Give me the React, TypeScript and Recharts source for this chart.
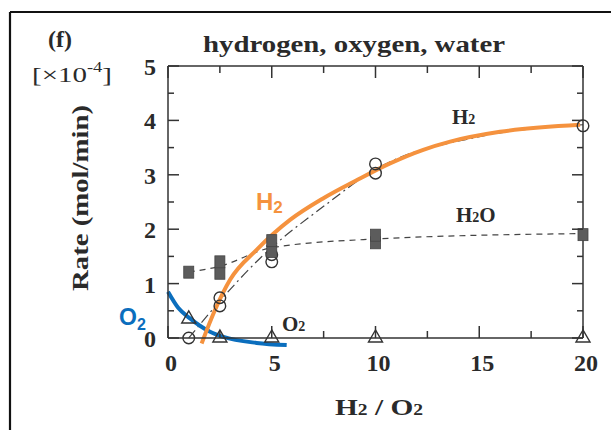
import React from 'react';
import { ComposedChart, XAxis, YAxis, Line, Scatter } from 'recharts';

// ---- axis ticks ----
const xTicks = [0, 2.5, 5, 7.5, 10, 12.5, 15, 17.5, 20];
const xTickLabels = [0, 5, 10, 15, 20];
const yTicks = [0, 0.5, 1, 1.5, 2, 2.5, 3, 3.5, 4, 4.5, 5];
const yTickLabels = [0, 1, 2, 3, 4, 5];

// ---- measured points (rate x1e-4 mol/min vs H2/O2) ----
const h2Points = [
  { x: 1, y: 0 },
  { x: 2.5, y: 0.59 },
  { x: 2.5, y: 0.74 },
  { x: 5, y: 1.4 },
  { x: 5, y: 1.53 },
  { x: 10, y: 3.03 },
  { x: 10, y: 3.2 },
  { x: 20, y: 3.9 },
];
const h2oPoints = [
  { x: 1, y: 1.21 },
  { x: 2.5, y: 1.19 },
  { x: 2.5, y: 1.4 },
  { x: 5, y: 1.59 },
  { x: 5, y: 1.79 },
  { x: 10, y: 1.75 },
  { x: 10, y: 1.89 },
  { x: 20, y: 1.9 },
];
const o2Points = [
  { x: 1, y: 0.35 },
  { x: 2.5, y: 0 },
  { x: 5, y: 0 },
  { x: 10, y: 0 },
  { x: 20, y: 0 },
];

// ---- drawn curves ----
const h2FitCurve = [
  { x: 1.62, y: -0.1 },
  { x: 2.27, y: 0.52 },
  { x: 2.99, y: 1.07 },
  { x: 4.27, y: 1.62 },
  { x: 5.88, y: 2.17 },
  { x: 7.49, y: 2.57 },
  { x: 9.09, y: 2.9 },
  { x: 10.7, y: 3.21 },
  { x: 12.3, y: 3.46 },
  { x: 13.6, y: 3.61 },
  { x: 16, y: 3.79 },
  { x: 19.86, y: 3.92 },
];
const o2FitCurve = [
  { x: 0, y: 0.85 },
  { x: 0.5, y: 0.55 },
  { x: 1.06, y: 0.36 },
  { x: 2, y: 0.12 },
  { x: 2.67, y: 0.02 },
  { x: 4.27, y: -0.09 },
  { x: 5.72, y: -0.13 },
];
const h2TrendLine = [
  { x: 1, y: 0 },
  { x: 2.5, y: 0.68 },
  { x: 4.5, y: 1.49 },
  { x: 7.5, y: 2.42 },
  { x: 10, y: 3.1 },
  { x: 15, y: 3.7 },
  { x: 20, y: 3.92 },
];
const h2oTrendLine = [
  { x: 1, y: 1.21 },
  { x: 2.5, y: 1.32 },
  { x: 5, y: 1.66 },
  { x: 10, y: 1.82 },
  { x: 20, y: 1.92 },
];

const AXIS = '#333';
const TEXT = '#2a2a2a';
const SERIF = '"Liberation Serif", "Times New Roman", serif';
const SANS = '"Liberation Sans", Arial, sans-serif';
const ORANGE = '#F5923E';
const BLUE = '#0B6EBD';

const BottomTick = (props: any) => {
  const { x, y, payload } = props;
  const v = Number(payload.value);
  const major = v % 5 === 0;
  return (
    <g>
      <path d={`M${x},${y}V${y - (major ? 12 : 7)}`} stroke={AXIS} strokeWidth={1.5} fill="none" />
      {xTickLabels.includes(v) && (
        <text x={x + 3} y={y + 33} textAnchor="middle" fontFamily={SERIF} fontWeight="bold" fontSize={24} fill={TEXT}>
          {v}
        </text>
      )}
    </g>
  );
};

const TopTick = (props: any) => {
  const { x, y, payload } = props;
  const major = Number(payload.value) % 5 === 0;
  return <path d={`M${x},${y}V${y + (major ? 12 : 7)}`} stroke={AXIS} strokeWidth={1.5} fill="none" />;
};

const LeftTick = (props: any) => {
  const { x, y, payload } = props;
  const v = Number(payload.value);
  const major = v % 1 === 0;
  return (
    <g>
      <path d={`M${x},${y}H${x + (major ? 11 : 6)}`} stroke={AXIS} strokeWidth={1.5} fill="none" />
      {yTickLabels.includes(v) && (
        <text x={x - 12} y={y + 9} textAnchor="end" fontFamily={SERIF} fontWeight="bold" fontSize={24} fill={TEXT}>
          {v}
        </text>
      )}
    </g>
  );
};

const RightTick = (props: any) => {
  const { x, y, payload } = props;
  const major = Number(payload.value) % 1 === 0;
  return <path d={`M${x},${y}H${x - (major ? 11 : 6)}`} stroke={AXIS} strokeWidth={1.5} fill="none" />;
};

const CircleMark = (p: any) => (
  <circle cx={p.cx} cy={p.cy} r={5.8} fill="none" stroke="#333" strokeWidth={1.4} />
);
const SquareMark = (p: any) => (
  <rect x={p.cx - 5} y={p.cy - 6} width={10} height={12} fill="#5c5c5c" stroke="#444" strokeWidth={0.8} />
);
const TriangleMark = (p: any) => (
  <polygon
    points={`${p.cx},${p.cy - 8} ${p.cx - 7},${p.cy + 4} ${p.cx + 7},${p.cy + 4}`}
    fill="none"
    stroke="#333"
    strokeWidth={1.4}
  />
);

export default function App() {
  return (
    <div style={{ position: 'absolute', left: 0, top: 0, width: 611, height: 430, background: '#fff' }}>
      <style>{`.recharts-surface path, .recharts-surface g { clip-path: none !important; }`}</style>
      <ComposedChart width={611} height={430} margin={{ top: 65, right: 27, bottom: 52, left: 108 }}>
        <XAxis
          xAxisId={0}
          dataKey="x"
          type="number"
          domain={[0, 20]}
          ticks={xTicks}
          interval={0}
          allowDataOverflow
          height={40}
          tickSize={0}
          tickMargin={0}
          tickLine={false}
          axisLine={{ stroke: AXIS, strokeWidth: 1.5 }}
          tick={BottomTick}
        />
        <XAxis
          xAxisId="top"
          orientation="top"
          dataKey="x"
          type="number"
          domain={[0, 20]}
          ticks={xTicks}
          interval={0}
          allowDataOverflow
          height={1}
          tickSize={0}
          tickMargin={0}
          tickLine={false}
          axisLine={{ stroke: AXIS, strokeWidth: 1.5 }}
          tick={TopTick}
        />
        <YAxis
          yAxisId={0}
          dataKey="y"
          type="number"
          domain={[0, 5]}
          ticks={yTicks}
          interval={0}
          allowDataOverflow
          width={60}
          tickSize={0}
          tickMargin={0}
          tickLine={false}
          axisLine={{ stroke: AXIS, strokeWidth: 1.5 }}
          tick={LeftTick}
        />
        <YAxis
          yAxisId="right"
          orientation="right"
          dataKey="y"
          type="number"
          domain={[0, 5]}
          ticks={yTicks}
          interval={0}
          allowDataOverflow
          width={1}
          tickSize={0}
          tickMargin={0}
          tickLine={false}
          axisLine={{ stroke: AXIS, strokeWidth: 1.5 }}
          tick={RightTick}
        />

        <Line
          data={h2oTrendLine}
          dataKey="y"
          type="monotone"
          stroke="#444"
          strokeWidth={1.2}
          strokeDasharray="6 5"
          dot={false}
          activeDot={false}
          isAnimationActive={false}
        />
        <Line
          data={h2TrendLine}
          dataKey="y"
          type="monotone"
          stroke="#444"
          strokeWidth={1.2}
          strokeDasharray="10 4 2 4"
          dot={false}
          activeDot={false}
          isAnimationActive={false}
        />
        <Scatter data={h2Points} dataKey="y" shape={CircleMark} isAnimationActive={false} />
        <Scatter data={h2oPoints} dataKey="y" shape={SquareMark} isAnimationActive={false} />
        <Scatter
          data={o2Points}
          dataKey="y"
          xAxisId="top"
          yAxisId="right"
          shape={TriangleMark}
          isAnimationActive={false}
        />
        <Line
          data={o2FitCurve}
          dataKey="y"
          type="monotone"
          stroke={BLUE}
          strokeWidth={4}
          dot={false}
          activeDot={false}
          isAnimationActive={false}
        />
        <Line
          data={h2FitCurve}
          dataKey="y"
          type="monotone"
          stroke={ORANGE}
          strokeWidth={4}
          dot={false}
          activeDot={false}
          isAnimationActive={false}
        />
      </ComposedChart>

      <svg
        width={611}
        height={430}
        style={{ position: 'absolute', left: 0, top: 0, pointerEvents: 'none' }}
      >
        <line x1={10} y1={12} x2={611} y2={12} stroke="#111" strokeWidth={2.2} />
        <line x1={10} y1={12} x2={10} y2={430} stroke="#111" strokeWidth={2.2} />

        <text x={60} y={47} textAnchor="middle" fontFamily={SERIF} fontWeight="bold" fontSize={24} fill={TEXT}>
          (f)
        </text>
        <text x={32} y={82} fontFamily={SERIF} fontSize={22} fill={TEXT} textLength={80} lengthAdjust="spacingAndGlyphs">
          [×10<tspan fontSize={14} dy={-10}>-4</tspan><tspan dy={10}>]</tspan>
        </text>
        <text
          x={354}
          y={52}
          textAnchor="middle"
          fontFamily={SERIF}
          fontWeight="bold"
          fontSize={24}
          fill={TEXT}
          textLength={302}
          lengthAdjust="spacingAndGlyphs"
        >
          hydrogen, oxygen, water
        </text>
        <text
          x={88}
          y={198}
          transform="rotate(-90 88 198)"
          textAnchor="middle"
          fontFamily={SERIF}
          fontWeight="bold"
          fontSize={24}
          fill={TEXT}
          textLength={186}
          lengthAdjust="spacingAndGlyphs"
        >
          Rate (mol/min)
        </text>
        <text
          x={335}
          y={415}
          fontFamily={SERIF}
          fontWeight="bold"
          fontSize={24}
          fill={TEXT}
          textLength={88}
          lengthAdjust="spacingAndGlyphs"
        >
          H<tspan fontSize={16}>2</tspan> / O<tspan fontSize={16}>2</tspan>
        </text>

        <text x={452} y={124} fontFamily={SERIF} fontWeight="bold" fontSize={21} fill={TEXT}>
          H<tspan fontSize={14}>2</tspan>
        </text>
        <text x={456} y={222} fontFamily={SERIF} fontWeight="bold" fontSize={21} fill={TEXT}>
          H<tspan fontSize={14}>2</tspan>O
        </text>
        <text x={282} y={331} fontFamily={SERIF} fontWeight="bold" fontSize={21} fill={TEXT}>
          O<tspan fontSize={14}>2</tspan>
        </text>

        <text x={256} y={210} fontFamily={SANS} fontWeight="bold" fontSize={24} fill={ORANGE}>
          H<tspan fontSize={17} dy={3}>2</tspan>
        </text>
        <text x={119} y={325} fontFamily={SANS} fontWeight="bold" fontSize={23} fill={BLUE}>
          O<tspan fontSize={16} dy={5}>2</tspan>
        </text>
      </svg>
    </div>
  );
}
